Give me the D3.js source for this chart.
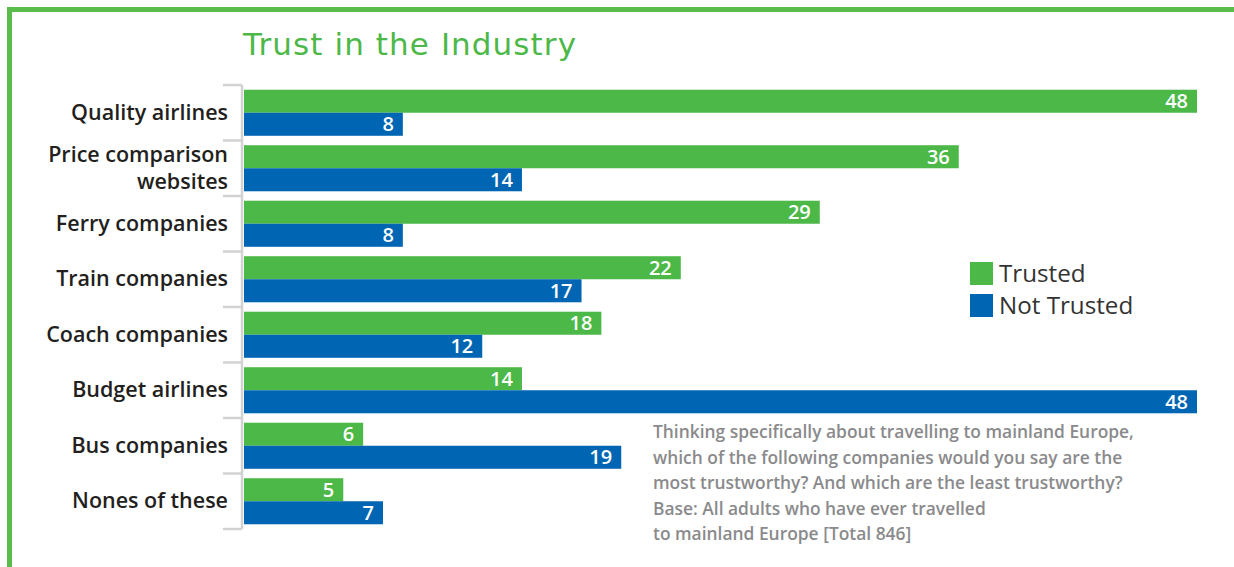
<!DOCTYPE html>
<html>
<head>
<meta charset="utf-8">
<script src="https://cdn.jsdelivr.net/npm/d3@7"></script>
<style>
  html, body { margin: 0; padding: 0; background: #fff; }
  svg { display: block; }
</style>
</head>
<body>
<svg id="chart" width="1234" height="567"></svg>
<script>
// Survey results: share of respondents who trust / distrust each kind of company
const categories = [
  ["Quality airlines"],
  ["Price comparison", "websites"],
  ["Ferry companies"],
  ["Train companies"],
  ["Coach companies"],
  ["Budget airlines"],
  ["Bus companies"],
  ["Nones of these"]
];
const trusted    = [48, 36, 29, 22, 18, 14, 6, 5];
const notTrusted = [8, 14, 8, 17, 12, 48, 19, 7];
const seriesNames = ["Trusted", "Not Trusted"];
const seriesColors = ["#4cb848", "#0065b3"];
const footnoteLines = [
  "Thinking specifically about travelling to mainland Europe,",
  "which of the following companies would you say are the",
  "most trustworthy? And which are the least trustworthy?",
  "Base: All adults who have ever travelled",
  "to mainland Europe [Total 846]"
];

const svg = d3.select("#chart");
const W = 1234, H = 567;

// Frame: green rule along the top and left edge
svg.append("path")
  .attr("d", `M9.5,${H} V9.5 H${W}`)
  .attr("fill", "none")
  .attr("stroke", "#5abd4b")
  .attr("stroke-width", 5);

// Title
svg.append("text")
  .attr("x", 243)
  .attr("y", 55)
  .attr("font-family", "DejaVu Sans, sans-serif")
  .attr("font-size", 31)
  .attr("textLength", 333)
  .attr("lengthAdjust", "spacing")
  .attr("fill", "#4cb848")
  .text("Trust in the Industry");

const plotLeft = 244, plotTop = 85, plotBottom = 529;

const x = d3.scaleLinear().domain([0, 48]).range([plotLeft, 1197]);
const y = d3.scaleBand()
  .domain(d3.range(categories.length))
  .range([plotTop, plotBottom])
  .paddingInner(0.17)
  .paddingOuter(0.085);
const sub = d3.scaleBand().domain([0, 1]).range([0, y.bandwidth()]);

// Category axis: grey spine with separators between the groups
const axisX = 242;
const axisG = svg.append("g");
axisG.append("line")
  .attr("x1", axisX).attr("x2", axisX)
  .attr("y1", plotTop).attr("y2", plotBottom)
  .attr("stroke", "#d2d2d2").attr("stroke-width", 2.5);
const step = (plotBottom - plotTop) / categories.length;
axisG.selectAll("line.sep")
  .data(d3.range(categories.length + 1))
  .join("line")
  .attr("class", "sep")
  .attr("x1", 223).attr("x2", axisX)
  .attr("y1", i => plotTop + i * step)
  .attr("y2", i => plotTop + i * step)
  .attr("stroke", "#d2d2d2").attr("stroke-width", 2.5);

// Category labels
const labelG = svg.append("g")
  .attr("font-family", "Open Sans, sans-serif")
  .attr("font-weight", 600)
  .attr("font-size", 21.5)
  .attr("fill", "#231f20")
  .attr("text-anchor", "end");
categories.forEach((lines, i) => {
  const cy = plotTop + (i + 0.5) * step;
  const lh = 27;
  const t = labelG.append("text")
    .attr("x", 228)
    .attr("y", cy - (lines.length - 1) * lh / 2 + 7);
  lines.forEach((ln, j) => {
    t.append("tspan").attr("x", 228).attr("dy", j === 0 ? 0 : lh).text(ln);
  });
});

// Bars
const rows = categories.map((c, i) => [trusted[i], notTrusted[i]]);
const groups = svg.append("g").selectAll("g")
  .data(rows)
  .join("g")
  .attr("transform", (d, i) => `translate(0,${y(i)})`);

groups.selectAll("rect")
  .data(d => d)
  .join("rect")
  .attr("x", x(0))
  .attr("y", (d, j) => sub(j))
  .attr("width", d => x(d) - x(0))
  .attr("height", sub.bandwidth())
  .attr("fill", (d, j) => seriesColors[j]);

groups.selectAll("text")
  .data(d => d)
  .join("text")
  .attr("x", d => x(d) - 9)
  .attr("y", (d, j) => sub(j) + sub.bandwidth() / 2 + 7)
  .attr("text-anchor", "end")
  .attr("font-family", "Open Sans, sans-serif")
  .attr("font-weight", 600)
  .attr("font-size", 20)
  .attr("fill", "#fff")
  .text(d => d);

// Legend
const legend = svg.append("g").attr("transform", "translate(970,262)");
seriesNames.forEach((name, i) => {
  const g = legend.append("g").attr("transform", `translate(0,${i * 32})`);
  g.append("rect").attr("width", 23).attr("height", 23).attr("fill", seriesColors[i]);
  g.append("text")
    .attr("x", 29).attr("y", 20)
    .attr("font-family", "Open Sans, sans-serif")
    .attr("font-size", 24.2)
    .attr("fill", "#333")
    .text(name);
});

// Footnote
const foot = svg.append("text")
  .attr("font-family", "Open Sans, sans-serif")
  .attr("font-weight", 600)
  .attr("font-size", 17.4)
  .attr("fill", "#8a8a8c");
footnoteLines.forEach((ln, i) => {
  foot.append("tspan").attr("x", 653).attr("y", 438 + i * 25.5).text(ln);
});
</script>
</body>
</html>
